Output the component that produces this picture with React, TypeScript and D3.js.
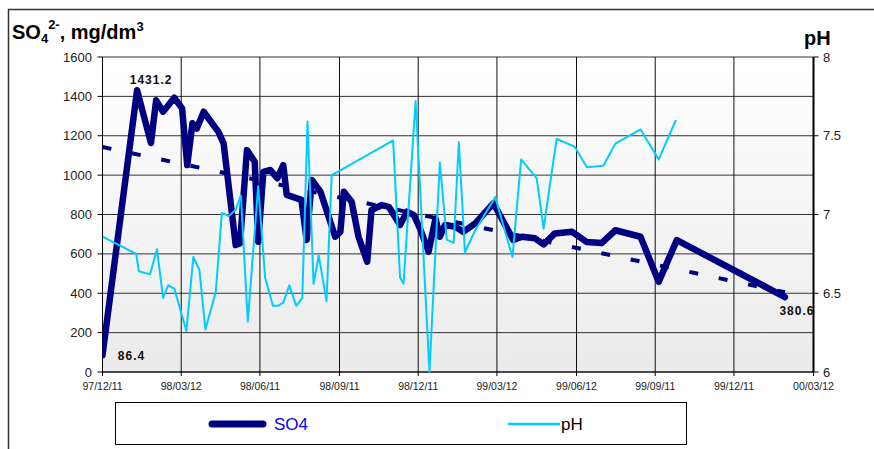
import * as d3 from 'd3'

// SO4 samples (mg/dm3)
const so4Dates = [
  '1997-12-11', '1998-01-20', '1998-02-05', '1998-02-11', '1998-02-19', '1998-03-04',
  '1998-03-13', '1998-03-19', '1998-03-25', '1998-03-30', '1998-04-07', '1998-04-24',
  '1998-04-30', '1998-05-14', '1998-05-19', '1998-05-27', '1998-06-05', '1998-06-09',
  '1998-06-15', '1998-06-23', '1998-07-01', '1998-07-08', '1998-07-12', '1998-07-29',
  '1998-08-04', '1998-08-10', '1998-08-20', '1998-09-06', '1998-09-12', '1998-09-16',
  '1998-09-25', '1998-10-03', '1998-10-13', '1998-10-18', '1998-10-30', '1998-11-07',
  '1998-11-20', '1998-11-28', '1998-12-06', '1998-12-13', '1998-12-23', '1998-12-31',
  '1999-01-05', '1999-01-11', '1999-01-23', '1999-02-01', '1999-02-15', '1999-03-08',
  '1999-03-31', '1999-04-10', '1999-04-25', '1999-05-05', '1999-05-18', '1999-06-07',
  '1999-06-24', '1999-07-11', '1999-07-27', '1999-08-25', '1999-09-15', '1999-10-06',
  '2000-02-08',
]
const so4Values = [
  86.4, 1431.2, 1163, 1380, 1322, 1393,
  1339, 1051, 1263, 1237, 1322, 1220,
  1161, 645, 654, 1127, 1068, 662,
  1017, 1026, 984, 1051, 900, 874,
  670, 975, 916, 687, 712, 916,
  865, 687, 560, 823, 848, 839,
  747, 814, 797, 729, 611, 780,
  687, 747, 738, 712, 755, 857,
  670, 687, 679, 648, 704, 712,
  660, 655, 720, 687, 458, 670,
  380.6,
]

// pH samples
const phDates = [
  '1997-12-11', '1998-01-19', '1998-01-22', '1998-02-04', '1998-02-12', '1998-02-19',
  '1998-02-25', '1998-03-04', '1998-03-18', '1998-03-26', '1998-04-02', '1998-04-09',
  '1998-04-21', '1998-04-28', '1998-05-06', '1998-05-14', '1998-05-20', '1998-05-28',
  '1998-06-09', '1998-06-17', '1998-06-26', '1998-07-02', '1998-07-08', '1998-07-15',
  '1998-07-23', '1998-07-30', '1998-08-05', '1998-08-12', '1998-08-18', '1998-08-27',
  '1998-09-02', '1998-09-12', '1998-11-12', '1998-11-20', '1998-11-24', '1998-12-08',
  '1998-12-24', '1999-01-05', '1999-01-13', '1999-01-21', '1999-01-27', '1999-02-03',
  '1999-02-15', '1999-03-10', '1999-03-30', '1999-04-09', '1999-04-27', '1999-05-05',
  '1999-05-20', '1999-06-10', '1999-06-24', '1999-07-13', '1999-07-27', '1999-08-25',
  '1999-09-15', '1999-10-05',
]
const phValues = [
  6.86, 6.75, 6.64, 6.62, 6.78, 6.47,
  6.55, 6.53, 6.26, 6.73, 6.65, 6.27,
  6.51, 7.01, 6.99, 7.03, 7.12, 6.32,
  7.18, 6.6, 6.42, 6.42, 6.44, 6.55,
  6.42, 6.47, 7.59, 6.56, 6.74, 6.45,
  7.25, 7.28, 7.47, 6.6, 6.56, 7.72,
  6.0, 7.33, 6.84, 6.82, 7.46, 6.76,
  6.9, 7.11, 6.73, 7.35, 7.23, 6.91,
  7.48, 7.43, 7.3, 7.31, 7.45, 7.54,
  7.35, 7.6,
]

const xTickLabels = ['97/12/11', '98/03/12', '98/06/11', '98/09/11', '98/12/11', '99/03/12', '99/06/12', '99/09/11', '99/12/11', '00/03/12']
const so4Ticks = [0, 200, 400, 600, 800, 1000, 1200, 1400, 1600]
const phTicks = [6, 6.5, 7, 7.5, 8]

const parseDate = d3.timeParse('%Y-%m-%d')
const parseTick = d3.timeParse('%y/%m/%d')

const W = 874
const H = 449
const left = 102.5
const right = 813.5
const top = 57
const bottom = 372

export default function App() {
  const tickDates = xTickLabels.map(t => parseTick(t) as Date)
  const x = d3.scaleTime().domain([tickDates[0], tickDates[tickDates.length - 1]]).range([left, right])
  const y = d3.scaleLinear().domain([0, 1600]).range([bottom, top])
  const yPh = d3.scaleLinear().domain([6, 8]).range([bottom, top])

  const so4 = so4Dates.map((d, i) => ({ date: parseDate(d) as Date, v: so4Values[i] }))
  const ph = phDates.map((d, i) => ({ date: parseDate(d) as Date, v: phValues[i] }))

  const so4Line = d3.line<any>().x(d => x(d.date)).y(d => y(d.v))
  const phLine = d3.line<any>().x(d => x(d.date)).y(d => yPh(d.v))

  // linear trend (least squares) like the excel trendline
  const t0 = so4[0].date.getTime()
  const xs = so4.map(d => (d.date.getTime() - t0) / 864e5)
  const mx = d3.mean(xs) as number
  const my = d3.mean(so4Values) as number
  let num = 0, den = 0
  xs.forEach((xv, i) => { num += (xv - mx) * (so4Values[i] - my); den += (xv - mx) * (xv - mx) })
  const slope = num / den
  const icpt = my - slope * mx
  const first = so4[0], last = so4[so4.length - 1]
  const trend = [first, last].map(d => ({ date: d.date, v: icpt + slope * (d.date.getTime() - t0) / 864e5 }))

  const peak = so4[d3.maxIndex(so4Values)]

  return (
    <svg width={W} height={H} style={{ position: 'absolute', left: 0, top: 0, fontFamily: 'Arial, "Liberation Sans", sans-serif' }}>
      <defs>
        <linearGradient id="bg" x1="0" y1="0" x2="0" y2="1">
          <stop offset="0" stopColor="#ffffff" />
          <stop offset="1" stopColor="#ebebeb" />
        </linearGradient>
        <clipPath id="plot">
          <rect x={left} y={top - 2} width={right - left} height={bottom - top + 4} />
        </clipPath>
      </defs>
      <rect x={0} y={0} width={W} height={H} fill="#fff" />
      {/* outer frame */}
      <path d={`M8.5,${H} V9.5 H${W}`} fill="none" stroke="#333" strokeWidth={1.5} />

      {/* title */}
      <text x={12} y={39} fontSize={20} fontWeight="bold" fill="#000">
        SO<tspan dy={4} fontSize={13}>4</tspan><tspan dy={-14} fontSize={13}>2-</tspan><tspan dy={10}>, mg/dm</tspan><tspan dy={-8} fontSize={13}>3</tspan>
      </text>
      <text x={804} y={45} fontSize={20} fontWeight="bold" fill="#000">pH</text>

      {/* plot area */}
      <rect x={left} y={top} width={right - left} height={bottom - top} fill="url(#bg)" />
      {so4Ticks.map(t => (
        <line key={'h' + t} x1={left} x2={right} y1={y(t)} y2={y(t)} stroke="#333" strokeWidth={1} />
      ))}
      {tickDates.map((d, i) => (
        <line key={'v' + i} x1={x(d)} x2={x(d)} y1={top} y2={bottom} stroke="#111" strokeWidth={1} />
      ))}

      {/* axes */}
      <line x1={left} x2={left} y1={top} y2={bottom} stroke="#000" />
      {so4Ticks.map(t => (
        <g key={'ly' + t}>
          <line x1={left - 5} x2={left} y1={y(t)} y2={y(t)} stroke="#000" />
          <text x={92} y={y(t) + 4.5} fontSize={13} textAnchor="end" fill="#222">{t}</text>
        </g>
      ))}
      <line x1={right} x2={right} y1={top} y2={bottom} stroke="#000" strokeWidth={2} />
      {phTicks.map(t => (
        <g key={'ry' + t}>
          <line x1={right} x2={right + 5} y1={yPh(t)} y2={yPh(t)} stroke="#000" />
          <text x={823} y={yPh(t) + 4.5} fontSize={13} fill="#222">{t}</text>
        </g>
      ))}
      <line x1={left} x2={right} y1={bottom} y2={bottom} stroke="#000" />
      {tickDates.map((d, i) => (
        <g key={'xt' + i}>
          <line x1={x(d)} x2={x(d)} y1={bottom} y2={bottom + 4} stroke="#000" />
          <text x={x(d)} y={390} fontSize={10.5} textAnchor="middle" fill="#222">{xTickLabels[i]}</text>
        </g>
      ))}

      {/* series */}
      <g clipPath="url(#plot)">
        <path d={so4Line(trend) as string} fill="none" stroke="#000080" strokeWidth={4} strokeDasharray="9 21" />
        <path d={so4Line(so4) as string} fill="none" stroke="#000080" strokeWidth={6.5} strokeLinejoin="round" strokeLinecap="round" />
        <path d={phLine(ph) as string} fill="none" stroke="#00ccff" strokeWidth={2} strokeLinejoin="round" />
      </g>

      {/* value labels */}
      <g fontSize={12} fontWeight="bold" fill="#111" letterSpacing={1}>
        <text x={x(peak.date) + 14} y={y(peak.v) - 6} textAnchor="middle">{peak.v}</text>
        <text x={x(first.date) + 29} y={y(first.v) + 5} textAnchor="middle">{first.v}</text>
        <text x={x(last.date) + 12} y={y(last.v) + 18} textAnchor="middle">{last.v}</text>
      </g>

      {/* legend */}
      <rect x={115.5} y={402.5} width={571} height={42} fill="#fff" stroke="#000" strokeWidth={1} />
      <line x1={212} x2={263} y1={424} y2={424} stroke="#000080" strokeWidth={7} strokeLinecap="round" />
      <text x={274} y={430} fontSize={17} fill="#0000ff">SO4</text>
      <line x1={508} x2={560} y1={424} y2={424} stroke="#00ccff" strokeWidth={2.5} />
      <text x={561} y={430} fontSize={17} fill="#000">pH</text>
    </svg>
  )
}
